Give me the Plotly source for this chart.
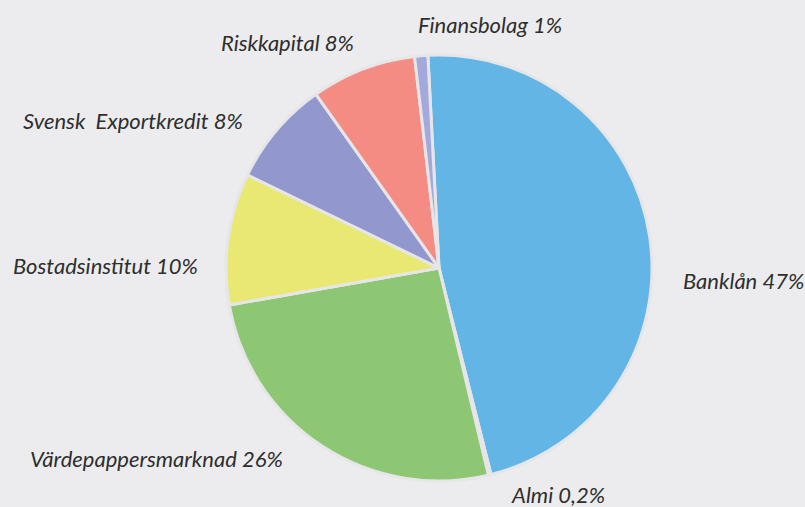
import plotly.graph_objects as go

# andelar av företagens finansiering, medsols från kl. 12
labels = ["Banklån", "Almi", "Värdepappersmarknad", "Bostadsinstitut",
          "Svensk  Exportkredit", "Riskkapital", "Finansbolag"]
values = [47, 0.2, 26, 10, 8, 8, 1]
colors = ["#62b5e5", "#e6e6e9", "#8dc774", "#e9e872",
          "#9297ce", "#f48c83", "#a3aadb"]

# etikettlägen i pixlar (vänsterkant, mitt-y)
label_pos = {
    "Banklån": (681, 280),
    "Almi": (509, 494),
    "Värdepappersmarknad": (28, 458),
    "Bostadsinstitut": (11, 265),
    "Svensk  Exportkredit": (21, 120),
    "Riskkapital": (219, 43),
    "Finansbolag": (416, 24),
}

W, H = 805, 507
cx, cy, r = 439, 268, 213


def fmt(v):
    s = f"{v:g}".replace(".", ",")
    return f"{s}%"


fig = go.Figure(
    go.Pie(
        labels=labels,
        values=values,
        sort=False,
        direction="clockwise",
        rotation=-3,
        marker=dict(colors=colors, line=dict(color="#e6e6e9", width=3)),
        textinfo="none",
        hoverinfo="skip",
        showlegend=False,
        domain=dict(
            x=[(cx - r) / W, (cx + r) / W],
            y=[1 - (cy + r) / H, 1 - (cy - r) / H],
        ),
    )
)

for lab, v in zip(labels, values):
    px, py = label_pos[lab]
    fig.add_annotation(
        x=px / W, y=1 - py / H, xref="paper", yref="paper",
        xanchor="left", yanchor="middle", showarrow=False,
        text=f"<i>{lab} {fmt(v)}</i>",
        font=dict(family="Lato", size=22, color="#2e2e2e"),
    )

fig.update_layout(
    width=W, height=H,
    margin=dict(l=0, r=0, t=0, b=0),
    paper_bgcolor="#ececee",
    plot_bgcolor="#ececee",
)

fig.write_html(
    "out.html",
    config={"displayModeBar": False},
    post_script="document.body.style.margin='0';document.body.style.overflow='hidden';",
)
